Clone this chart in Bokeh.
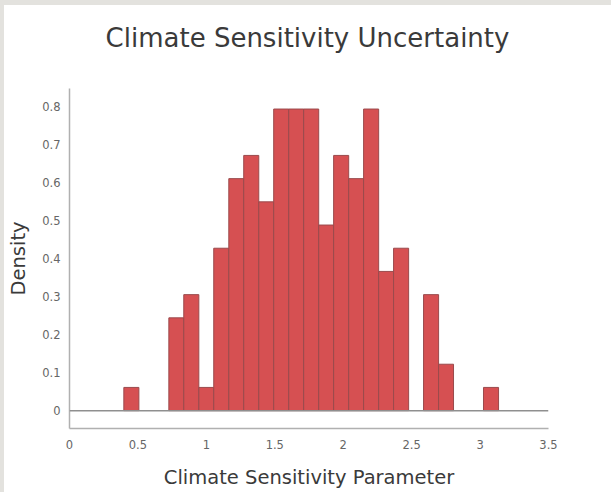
from bokeh.plotting import figure
from bokeh.models import FixedTicker, Span, Div, Column
from bokeh.embed import file_html
from bokeh.resources import INLINE

# Histogram data (density)
bin_edges = [0.397, 0.507, 0.616, 0.726, 0.835, 0.945, 1.054, 1.164, 1.273,
             1.383, 1.492, 1.602, 1.711, 1.821, 1.930, 2.040, 2.149, 2.259,
             2.368, 2.478, 2.587, 2.697, 2.806, 2.916, 3.025, 3.135]
density = [0.061, 0.0, 0.0, 0.244, 0.305, 0.061, 0.427, 0.61, 0.671, 0.549,
           0.793, 0.793, 0.793, 0.488, 0.671, 0.61, 0.793, 0.366, 0.427, 0.0,
           0.305, 0.122, 0.0, 0.0, 0.061]

x_ticks = [0, 0.5, 1, 1.5, 2, 2.5, 3, 3.5]
x_tick_labels = ["0", "0.5", "1", "1.5", "2", "2.5", "3", "3.5"]
y_ticks = [0, 0.1, 0.2, 0.3, 0.4, 0.5, 0.6, 0.7, 0.8]
y_tick_labels = ["0", "0.1", "0.2", "0.3", "0.4", "0.5", "0.6", "0.7", "0.8"]

title_text = "Climate Sensitivity Uncertainty"
x_label = "Climate Sensitivity Parameter"
y_label = "Density"

FONT = "DejaVu Sans"

# title as an HTML block above the plot
title_div = Div(
    text=f'<div style="width:607px;text-align:center;font-family:\'{FONT}\';'
         f'font-size:26px;line-height:32px;color:#3a3a3a;padding-top:17px;">'
         f'{title_text}</div>',
    width=607, height=60, margin=0,
    styles={"background-color": "white"})

p = figure(width=607, height=427, x_range=(0, 3.5), y_range=(-0.047, 0.847),
           output_backend="svg", toolbar_location=None,
           min_border_left=65, min_border_right=63, min_border_top=23,
           min_border_bottom=64, margin=0,
           background_fill_color="white", border_fill_color="white",
           styles={"background-color": "white"})
p.outline_line_color = None
p.grid.visible = False

# bars (skip empty bins)
lefts, rights, tops = [], [], []
for i, d in enumerate(density):
    if d > 0:
        lefts.append(bin_edges[i])
        rights.append(bin_edges[i + 1])
        tops.append(d)
p.quad(left=lefts, right=rights, top=tops, bottom=0,
       fill_color="#d65052", line_color="#9a4a4c", line_width=1)

p.add_layout(Span(location=0, dimension="width", line_color="#8f8f8f", line_width=1.5))

for ax in (p.xaxis[0], p.yaxis[0]):
    ax.axis_line_color = "#b0b0b0"
    ax.axis_line_width = 1.5
    ax.major_tick_line_color = None
    ax.minor_tick_line_color = None
    ax.major_label_text_font = FONT
    ax.major_label_text_font_size = "11.5px"
    ax.major_label_text_color = "#666666"
    ax.axis_label_text_font = FONT
    ax.axis_label_text_font_size = "19.5px"
    ax.axis_label_text_font_style = "normal"
    ax.axis_label_text_color = "#3a3a3a"

p.xaxis.ticker = FixedTicker(ticks=x_ticks)
p.xaxis.major_label_overrides = {t: l for t, l in zip(x_ticks, x_tick_labels)}
p.xaxis.major_label_standoff = 5
p.xaxis.axis_label = x_label
p.xaxis.axis_label_standoff = 14

p.yaxis.ticker = FixedTicker(ticks=y_ticks)
p.yaxis.major_label_overrides = {t: l for t, l in zip(y_ticks, y_tick_labels)}
p.yaxis.major_label_standoff = 3
p.yaxis.axis_label = y_label
p.yaxis.axis_label_standoff = 9

layout = Column(title_div, p, spacing=0, margin=(5, 0, 0, 4),
                styles={"background-color": "white"})

html = file_html(layout, INLINE)
css = "<style>html, body { margin: 0 !important; padding: 0; background: #e3e2de !important; }</style>"
html = html.replace("</head>", css + "\n</head>", 1)
open("out.html", "w").write(html)
